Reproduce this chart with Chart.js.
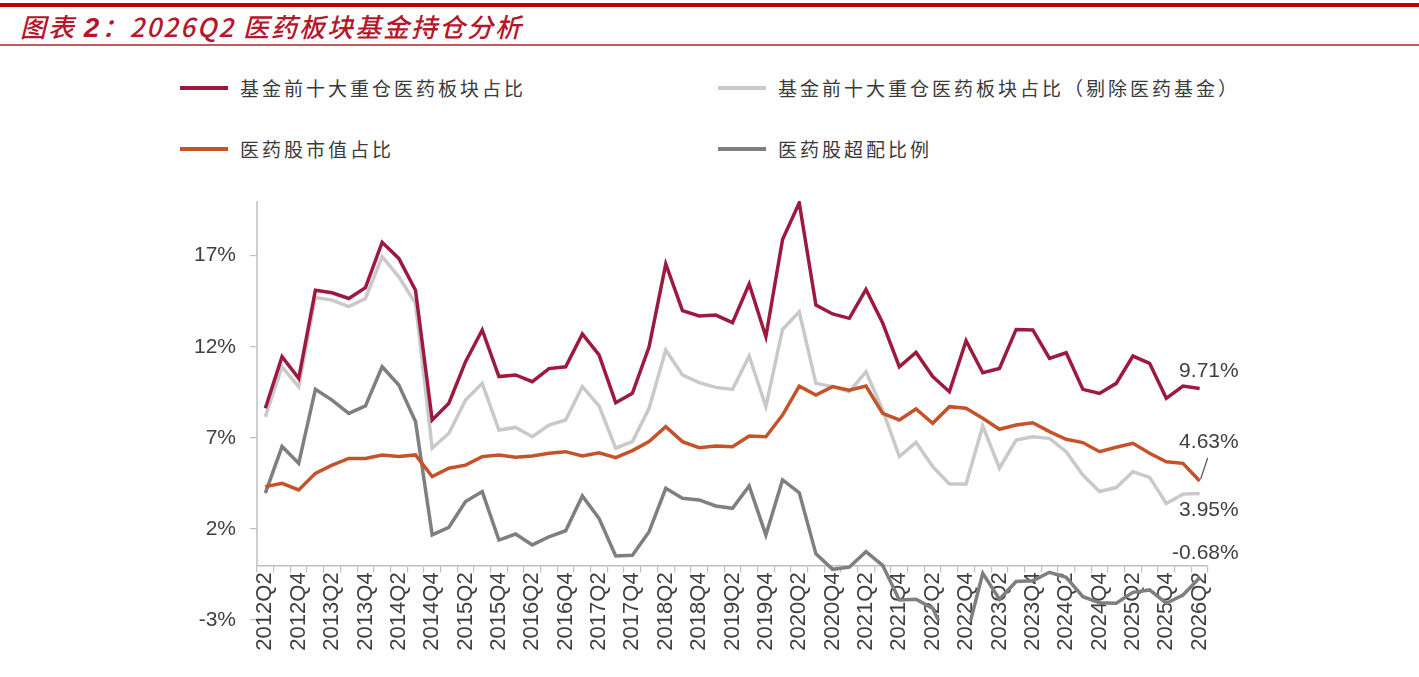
<!DOCTYPE html>
<html>
<head>
<meta charset="utf-8">
<script src="https://cdn.jsdelivr.net/npm/chart.js@4.4.1/dist/chart.umd.min.js"></script>
<style>
  body { margin:0; background:#fff; width:1419px; height:677px; overflow:hidden; position:relative; }
  .topline { position:absolute; left:0; top:3px; width:1419px; height:4px; background:#c00000; }
  .botline { position:absolute; left:0; top:44px; width:1419px; height:2px; background:#c65a5a; }
  .title { position:absolute; left:20px; top:7px; font-family:"Noto Sans CJK SC"; font-style:italic; font-weight:500;
           font-size:26px; color:#b5172b; letter-spacing:2px; white-space:nowrap; }
  .title b { font-family:"Liberation Sans"; font-weight:bold; font-size:28px; }
  .leg { position:absolute; font-family:"Noto Sans CJK SC"; font-size:19px; letter-spacing:3px; color:#3a3a3a; white-space:nowrap; }
  .leg i { position:absolute; left:-60px; top:50%; width:48px; height:4px; margin-top:-2px; }
  #wrap { position:absolute; left:0; top:0; width:1419px; height:677px; }
</style>
</head>
<body>
<div class="topline"></div>
<div class="title">图表 <b>2</b>：2026Q2 医药板块基金持仓分析</div>
<div class="botline"></div>
<div id="legend"></div>
<div id="wrap"><canvas id="c"></canvas></div>
<script>
// quarters 2012Q2 .. 2026Q2
const quarters = [
  "2012Q2","2012Q3","2012Q4","2013Q1","2013Q2","2013Q3","2013Q4","2014Q1","2014Q2","2014Q3","2014Q4",
  "2015Q1","2015Q2","2015Q3","2015Q4","2016Q1","2016Q2","2016Q3","2016Q4","2017Q1","2017Q2","2017Q3","2017Q4",
  "2018Q1","2018Q2","2018Q3","2018Q4","2019Q1","2019Q2","2019Q3","2019Q4","2020Q1","2020Q2","2020Q3","2020Q4",
  "2021Q1","2021Q2","2021Q3","2021Q4","2022Q1","2022Q2","2022Q3","2022Q4","2023Q1","2023Q2","2023Q3","2023Q4",
  "2024Q1","2024Q2","2024Q3","2024Q4","2025Q1","2025Q2","2025Q3","2025Q4","2026Q1","2026Q2"
];

// 基金前十大重仓医药板块占比
const fundTop10 = [8.62,11.45,10.27,15.1,14.96,14.65,15.24,17.73,16.85,15.1,7.98,
  8.9,11.18,12.92,10.36,10.45,10.08,10.8,10.9,12.7,11.55,8.93,9.44,
  12.0,16.54,13.98,13.69,13.74,13.32,15.44,12.55,17.89,19.9,14.29,13.8,
  13.56,15.15,13.3,10.9,11.69,10.36,9.53,12.33,10.57,10.81,12.95,12.92,
  11.36,11.67,9.66,9.44,9.99,11.49,11.09,9.17,9.84,9.71];

// 基金前十大重仓医药板块占比（剔除医药基金）
const fundExPharma = [8.16,10.9,9.8,14.7,14.56,14.2,14.65,16.94,15.84,14.38,6.43,
  7.25,9.08,9.99,7.43,7.57,7.06,7.7,7.98,9.81,8.75,6.43,6.79,
  8.62,11.82,10.45,10.03,9.77,9.66,11.49,8.71,12.95,13.92,9.99,9.81,
  9.53,10.63,8.53,5.97,6.75,5.42,4.47,4.47,7.65,5.33,6.88,7.06,
  6.97,6.24,4.96,4.05,4.27,5.14,4.83,3.4,3.91,3.95];

// 医药股市值占比
const mktShare = [4.32,4.5,4.14,5.05,5.5,5.87,5.87,6.06,5.97,6.06,4.87,
  5.33,5.5,5.97,6.06,5.93,6.0,6.15,6.24,6.0,6.18,5.91,6.3,
  6.79,7.61,6.79,6.46,6.55,6.51,7.1,7.06,8.25,9.84,9.35,9.81,
  9.62,9.84,8.34,7.98,8.58,7.8,8.71,8.62,8.07,7.47,7.7,7.83,
  7.34,6.92,6.74,6.24,6.48,6.7,6.15,5.69,5.6,4.63];

// 医药股超配比例
const overweight = [3.96,6.52,5.6,9.66,9.07,8.34,8.75,10.9,9.9,7.89,1.67,
  2.09,3.5,4.05,1.39,1.72,1.12,1.57,1.9,3.81,2.58,0.52,0.55,
  1.85,4.23,3.68,3.59,3.26,3.13,4.36,1.67,4.69,3.99,0.63,-0.22,
  -0.1,0.75,0.0,-1.9,-1.86,-2.36,-4.3,-4.0,-0.44,-1.86,-0.89,-0.84,
  -0.38,-0.66,-1.72,-2.05,-2.08,-1.48,-1.35,-2.08,-1.63,-0.68];

const yTicks = [-3, 2, 7, 12, 17];

const series = [
  { name: "基金前十大重仓医药板块占比", data: fundTop10, color: "#9c1a3e", dy: -17, col: 0, row: 0 },
  { name: "医药股市值占比", data: mktShare, color: "#c4532c", dy: -39, col: 0, row: 1, leader: true },
  { name: "基金前十大重仓医药板块占比（剔除医药基金）", data: fundExPharma, color: "#c9c9c9", dy: 17, col: 1, row: 0 },
  { name: "医药股超配比例", data: overweight, color: "#7f7f7f", dy: -25, col: 1, row: 1 }
];

// legend as html
const legEl = document.getElementById("legend");
series.forEach(s => {
  const d = document.createElement("div");
  d.className = "leg";
  d.style.left = (s.col ? 778 : 240) + "px";
  d.style.top = (s.row ? 135 : 74) + "px";
  d.innerHTML = '<i style="background:' + s.color + '"></i>' + s.name;
  legEl.appendChild(d);
});

const axisGray = "#bfbfbf";
const textGray = "#404040";

const extras = {
  id: "extras",
  afterDraw(chart) {
    const ctx = chart.ctx, y = chart.scales.y, area = chart.chartArea;
    ctx.save();
    // y axis line from top down to zero
    ctx.strokeStyle = axisGray;
    ctx.lineWidth = 1.5;
    ctx.beginPath();
    ctx.moveTo(area.left, area.top);
    ctx.lineTo(area.left, y.getPixelForValue(0));
    ctx.stroke();
    // end value labels
    ctx.font = "21px 'Liberation Sans', Arial";
    ctx.fillStyle = textGray;
    ctx.textAlign = "right";
    ctx.textBaseline = "middle";
    series.forEach((s, i) => {
      const pts = chart.getDatasetMeta(i).data;
      const p = pts[pts.length - 1];
      const v = s.data[s.data.length - 1];
      ctx.fillText(v.toFixed(2) + "%", p.x + 39, p.y + s.dy);
      if (s.leader) {
        ctx.strokeStyle = "#555";
        ctx.lineWidth = 1.2;
        ctx.beginPath();
        ctx.moveTo(p.x + 1, p.y - 2);
        ctx.lineTo(p.x + 8, p.y - 23);
        ctx.stroke();
      }
    });
    ctx.restore();
  }
};

new Chart(document.getElementById("c"), {
  type: "line",
  data: {
    labels: quarters,
    datasets: series.map(s => ({
      label: s.name,
      data: s.data,
      borderColor: s.color,
      backgroundColor: s.color,
      borderWidth: 3.5,
      pointRadius: 0,
      tension: 0
    }))
  },
  options: {
    responsive: true,
    maintainAspectRatio: false,
    animation: false,
    layout: { padding: { top: 201, bottom: 57, left: 0, right: 211 } },
    plugins: { legend: { display: false }, tooltip: { enabled: false } },
    scales: {
      x: {
        type: "category",
        position: { y: 0 },
        offset: true,
        grid: { display: true, drawOnChartArea: false, drawTicks: true, tickLength: 6, offset: true, color: axisGray, lineWidth: 1.2 },
        border: { display: true, color: axisGray, width: 1.5 },
        ticks: {
          autoSkip: false, minRotation: 90, maxRotation: 90, padding: 1,
          color: textGray, font: { family: "'Liberation Sans', Arial", size: 22 },
          callback: (v, i) => (i % 2 === 0 ? quarters[i] : "")
        }
      },
      y: {
        min: -3, max: 20,
        afterFit: s => { s.width = 257; },
        afterBuildTicks: s => { s.ticks = yTicks.map(v => ({ value: v })); },
        grid: { drawOnChartArea: false, drawTicks: true, tickLength: 7, color: axisGray, lineWidth: 1.2 },
        border: { display: false },
        ticks: {
          padding: 14, color: textGray, font: { family: "'Liberation Sans', Arial", size: 21 },
          callback: v => v + "%"
        }
      }
    }
  },
  plugins: [extras]
});
</script>
</body>
</html>
